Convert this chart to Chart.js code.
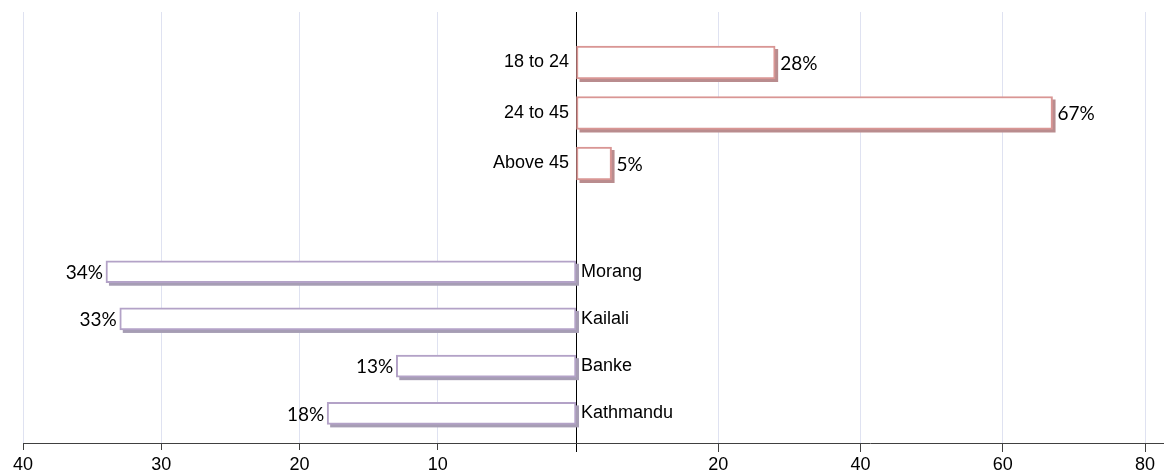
<!DOCTYPE html>
<html>
<head>
<meta charset="utf-8">
<title>Respondents by age and district</title>
<script src="https://cdn.jsdelivr.net/npm/chart.js@4"></script>
<style>
  html, body { margin: 0; padding: 0; background: #fff; }
  #wrap { width: 1164px; height: 474px; }
</style>
</head>
<body>
<div id="wrap"><canvas id="chart"></canvas></div>
<script>
// age groups (right half)
const ageGroups = ['18 to 24', '24 to 45', 'Above 45'];
const agePct = [28, 67, 5];

// districts (left half)
const districts = ['Morang', 'Kailali', 'Banke', 'Kathmandu'];
const districtPct = [34, 33, 13, 18];

// tick labels
const leftTicks = [10, 20, 30, 40];
const rightTicks = [0, 20, 40, 60, 80];

const ageColour = '#d99694';
const ageShadow = '#b98c8e';
const districtColour = '#b3a2c7';
const districtShadow = '#a69db4';
const gridColour = '#dfe2f1';

// pad the category lists so the two groups sit in their own bands
const ageLabels = ['', ...ageGroups, ''];
const ageData = [null, ...agePct, null];
const districtLabels = ['', '', '', '', '', ...districts];
const districtData = [null, null, null, null, null, ...districtPct];

Chart.defaults.font.family = '"Liberation Sans", Arial, sans-serif';
Chart.defaults.color = '#000';

// move the category labels onto the zero line
const centreLabels = {
  id: 'centreLabels',
  afterLayout(chart) {
    const zero = chart.scales.xr.getPixelForValue(0);
    const yt = chart.scales.yt;
    const yb = chart.scales.yb;
    yt.left = 0;
    yt.right = zero;
    yb.left = zero;
    yb.right = chart.width;
  }
};

// flat drop shadow behind each bar
const barShadow = {
  id: 'barShadow',
  beforeDatasetDraw(chart, args) {
    const ds = chart.data.datasets[args.index];
    const ctx = chart.ctx;
    ctx.save();
    ctx.fillStyle = ds.shadowColour;
    args.meta.data.forEach((bar, i) => {
      if (ds.data[i] == null) return;
      const p = bar.getProps(['x', 'y', 'base', 'height'], true);
      const left = Math.min(p.x, p.base);
      ctx.fillRect(left + 3, p.y - p.height / 2 + 3, Math.abs(p.x - p.base), p.height);
    });
    ctx.restore();
  }
};

// percentage next to each bar
const valueLabels = {
  id: 'valueLabels',
  afterDatasetsDraw(chart) {
    const ctx = chart.ctx;
    ctx.save();
    ctx.font = '19px Lato, "Liberation Sans", sans-serif';
    ctx.fillStyle = '#000';
    ctx.textBaseline = 'middle';
    chart.data.datasets.forEach((ds, di) => {
      const meta = chart.getDatasetMeta(di);
      meta.data.forEach((bar, i) => {
        const v = ds.data[i];
        if (v == null) return;
        const p = bar.getProps(['x', 'y', 'base'], true);
        if (p.x < p.base) {
          ctx.textAlign = 'right';
          ctx.fillText(v + '%', p.x - 3, p.y + 1);
        } else {
          ctx.textAlign = 'left';
          ctx.fillText(v + '%', p.x + 5, p.y + 1);
        }
      });
    });
    ctx.restore();
  }
};

// category axes take no room of their own
const flatAxis = (s) => {
  s.width = 0;
  s.paddingTop = 0;
  s.paddingBottom = 0;
};

// bottom axes: fixed height, no edge padding from the end labels
const bottomAxis = (s) => {
  s.height = 31;
  s.paddingLeft = 0;
  s.paddingRight = 0;
};

new Chart(document.getElementById('chart'), {
  type: 'bar',
  data: {
    datasets: [
      {
        label: 'Age',
        data: ageData,
        xAxisID: 'xr',
        yAxisID: 'yt',
        backgroundColor: '#fff',
        borderColor: ageColour,
        borderWidth: 2,
        borderSkipped: false,
        barThickness: 33,
        shadowColour: ageShadow
      },
      {
        label: 'District',
        data: districtData,
        xAxisID: 'xl',
        yAxisID: 'yb',
        backgroundColor: '#fff',
        borderColor: districtColour,
        borderWidth: 2,
        borderSkipped: false,
        barThickness: 22,
        shadowColour: districtShadow
      }
    ]
  },
  options: {
    indexAxis: 'y',
    responsive: true,
    maintainAspectRatio: false,
    animation: false,
    grouped: false,
    layout: { padding: { left: 23, right: 0, top: 12, bottom: 0 } },
    plugins: {
      legend: { display: false },
      tooltip: { enabled: false }
    },
    scales: {
      xl: {
        axis: 'x',
        type: 'linear',
        position: 'bottom',
        stack: 'bottom',
        stackWeight: 553,
        reverse: true,
        min: 0,
        max: 40,
        afterBuildTicks: (s) => { s.ticks = leftTicks.map(v => ({ value: v })); },
        afterFit: bottomAxis,
        grid: { color: gridColour, tickColor: '#404040', tickLength: 7 },
        border: { color: '#404040' },
        ticks: { font: { size: 18 }, maxRotation: 0, autoSkip: false, padding: 4 }
      },
      xr: {
        axis: 'x',
        type: 'linear',
        position: 'bottom',
        stack: 'bottom',
        stackWeight: 588,
        min: 0,
        max: 82.67,
        afterBuildTicks: (s) => { s.ticks = rightTicks.map(v => ({ value: v })); },
        afterFit: bottomAxis,
        grid: {
          color: (c) => c.tick && c.tick.value === 0 ? '#000' : gridColour,
          tickColor: (c) => c.tick && c.tick.value === 0 ? '#000' : '#404040',
          tickLength: 9
        },
        border: { color: '#404040' },
        ticks: {
          font: { size: 18 },
          maxRotation: 0,
          autoSkip: false,
          padding: 2,
          callback: (v) => v === 0 ? '' : v
        }
      },
      yt: {
        axis: 'y',
        type: 'category',
        labels: ageLabels,
        position: 'left',
        stack: 'rows',
        stackWeight: 202,
        weight: 1,
        offset: false,
        afterFit: flatAxis,
        grid: { display: false, drawTicks: false },
        border: { display: false },
        ticks: { font: { size: 18 }, padding: 7, autoSkip: false }
      },
      yspare: {
        axis: 'y',
        type: 'category',
        labels: [''],
        position: 'left',
        stack: 'rows',
        stackWeight: 229,
        weight: 0,
        display: false
      },
      yb: {
        axis: 'y',
        type: 'category',
        labels: districtLabels,
        position: 'right',
        stack: 'rightRows',
        stackWeight: 425,
        weight: 0,
        offset: true,
        afterFit: flatAxis,
        grid: { display: false, drawTicks: false },
        border: { display: false },
        ticks: { font: { size: 18 }, padding: 5, autoSkip: false }
      },
      ybspare: {
        axis: 'y',
        type: 'category',
        labels: [''],
        position: 'right',
        stack: 'rightRows',
        stackWeight: 6,
        weight: 1,
        display: false
      }
    }
  },
  plugins: [centreLabels, barShadow, valueLabels]
});
</script>
</body>
</html>
